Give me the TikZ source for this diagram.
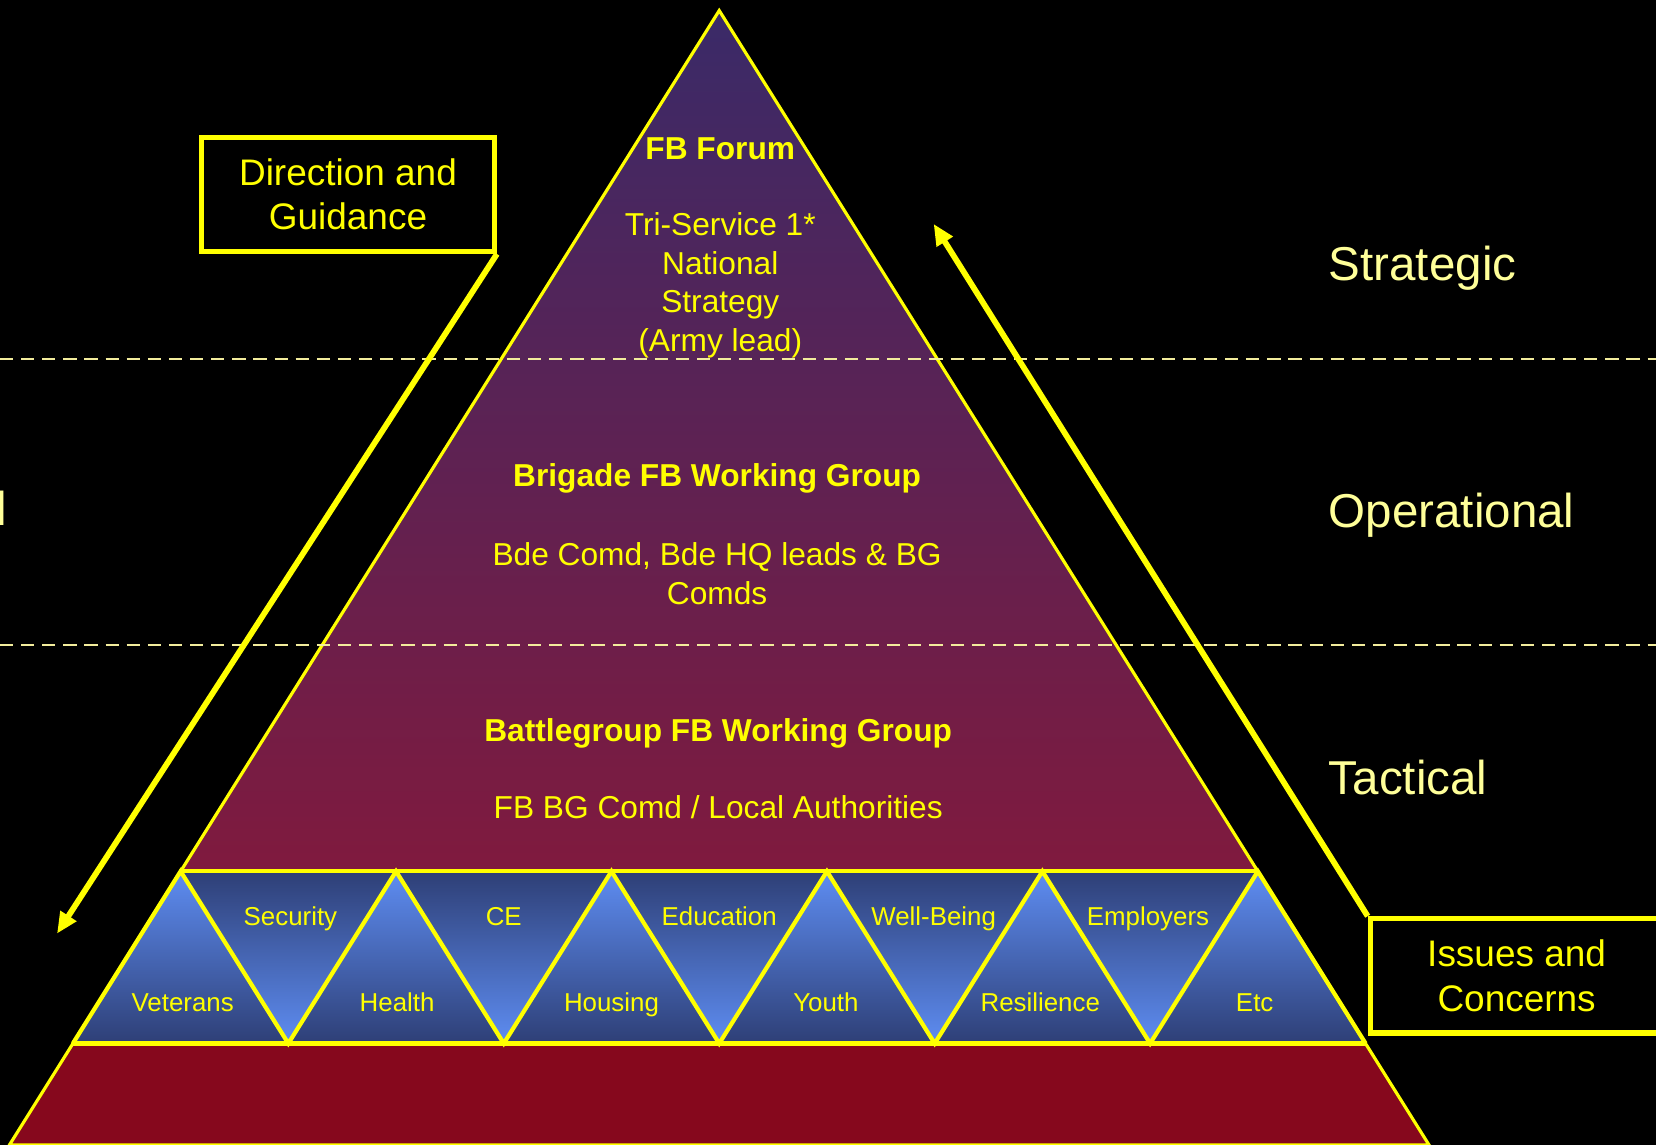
\documentclass[tikz,border=0pt]{standalone}
\usepackage{fontspec}
\setmainfont{Liberation Sans}
\usetikzlibrary{arrows.meta}
\definecolor{yel}{HTML}{FFFF00}
\definecolor{paleyel}{HTML}{FFFF99}
\definecolor{dashyel}{HTML}{F2EC9C}
\definecolor{pyrtop}{HTML}{3A2A68}
\definecolor{pyrmid}{HTML}{801A3E}
\definecolor{pyrbot}{HTML}{86081D}
\definecolor{lightblue}{HTML}{5E8DF2}
\definecolor{darkblue}{HTML}{2E3F76}
\begin{document}
\begin{tikzpicture}[x=1pt,y=-1pt,
  pyrtxt/.style={text=yel,align=center,inner sep=0pt,font=\fontsize{30}{36.5}\selectfont},
  pyrhead/.style={pyrtxt,anchor=base,font=\fontsize{30}{36.5}\selectfont\bfseries},
  bandlbl/.style={text=yel,anchor=base,inner sep=0pt,font=\fontsize{24.5}{29}\selectfont},
  levellbl/.style={text=paleyel,anchor=base west,inner sep=0pt,font=\fontsize{45}{54}\selectfont},
  boxnode/.style={draw=yel,line width=5pt,fill=black,text=yel,align=center,
    minimum width=277pt,minimum height=108pt,inner sep=0pt,font=\fontsize{35}{42}\selectfont},
  arrowline/.style={draw=yel,line width=5.5pt,-{Triangle[length=20pt,width=17pt]}},
  outline/.style={draw=yel,line width=3pt,line join=miter},
  bandline/.style={draw=yel,line width=4pt,line join=miter},
  levelline/.style={draw=dashyel,line width=2pt,dash pattern=on 12.5pt off 7.5pt},
  uptri/.style={top color=lightblue,bottom color=darkblue},
  downtri/.style={top color=darkblue,bottom color=lightblue}]
\useasboundingbox (0,0) rectangle (1568,1084);
\fill[black] (0,0) rectangle (1568,1084);

% pyramid
\coordinate (apex) at (681,10);
\coordinate (bl) at (9,1084);
\coordinate (br) at (1353,1084);
\shade[top color=pyrtop,bottom color=pyrmid] (apex) -- (171,825) -- (1191,825) -- cycle;
\fill[pyrbot] (69,988) -- (1293,988) -- (br) -- (bl) -- cycle;

% band of triangles
\foreach \k in {0,...,5}{
  \shade[uptri] ({69+204*\k},988) -- ({171+204*\k},825) -- ({273+204*\k},988) -- cycle;
}
\foreach \k in {0,...,4}{
  \shade[downtri] ({171+204*\k},825) -- ({375+204*\k},825) -- ({273+204*\k},988) -- cycle;
}
\draw[bandline] (69,988)
  \foreach \k in {0,...,5}{ -- ({171+204*\k},825) -- ({273+204*\k},988) };
\draw[bandline] (171,825) -- (1191,825);
\draw[bandline] (69,988) -- (1293,988);
\draw[outline] (apex) -- (bl) -- (br) -- cycle;

% level lines
\draw[levelline] (0,340) -- (1568,340);
\draw[levelline] (0,611) -- (1568,611);

% pyramid texts
\node[pyrhead] (fbf) at (682,151) {FB Forum};
\node[pyrtxt] (tri) at (682,270) {Tri-Service 1*\\National\\Strategy\\(Army lead)};
\node[pyrhead] (bde) at (679,461) {Brigade FB Working Group};
\node[pyrtxt] (bdec) at (679,543) {Bde Comd, Bde HQ leads \& BG\\Comds};
\node[pyrhead] (bgw) at (680,702) {Battlegroup FB Working Group};
\node[pyrtxt,anchor=base] (bgc) at (680,775) {FB BG Comd / Local Authorities};

% band labels
\node[bandlbl] (sec) at (275,876) {Security};
\node[bandlbl] (ce) at (477,876) {CE};
\node[bandlbl] (edu) at (681,876) {Education};
\node[bandlbl] (wb) at (884,876) {Well-Being};
\node[bandlbl] (emp) at (1087,876) {Employers};
\node[bandlbl] (vet) at (173,958) {Veterans};
\node[bandlbl] (hea) at (376,958) {Health};
\node[bandlbl] (hou) at (579,958) {Housing};
\node[bandlbl] (you) at (782,958) {Youth};
\node[bandlbl] (res) at (985,958) {Resilience};
\node[bandlbl] (etc) at (1188,958) {Etc};

% level labels
\node[levellbl] (strat) at (1258,266) {Strategic};
\node[levellbl] (oper) at (1258,499) {Operational};
\node[levellbl] (tact) at (1258,752) {Tactical};
\node[text=paleyel,anchor=base west,inner sep=0pt,font=\fontsize{45}{54}\selectfont] (frag) at (-3.8,498) {l};

% boxes and arrows
\node[boxnode] (dg) at (329.5,184) {Direction and\\Guidance};
\node[boxnode] (ic) at (1436,924) {Issues and\\Concerns};
\coordinate (tipL) at (54,884);
\coordinate (tipR) at (884,212);
\draw[arrowline] (dg.south east) -- (tipL);
\draw[arrowline] (ic.north west) -- (tipR);
\end{tikzpicture}
\end{document}
